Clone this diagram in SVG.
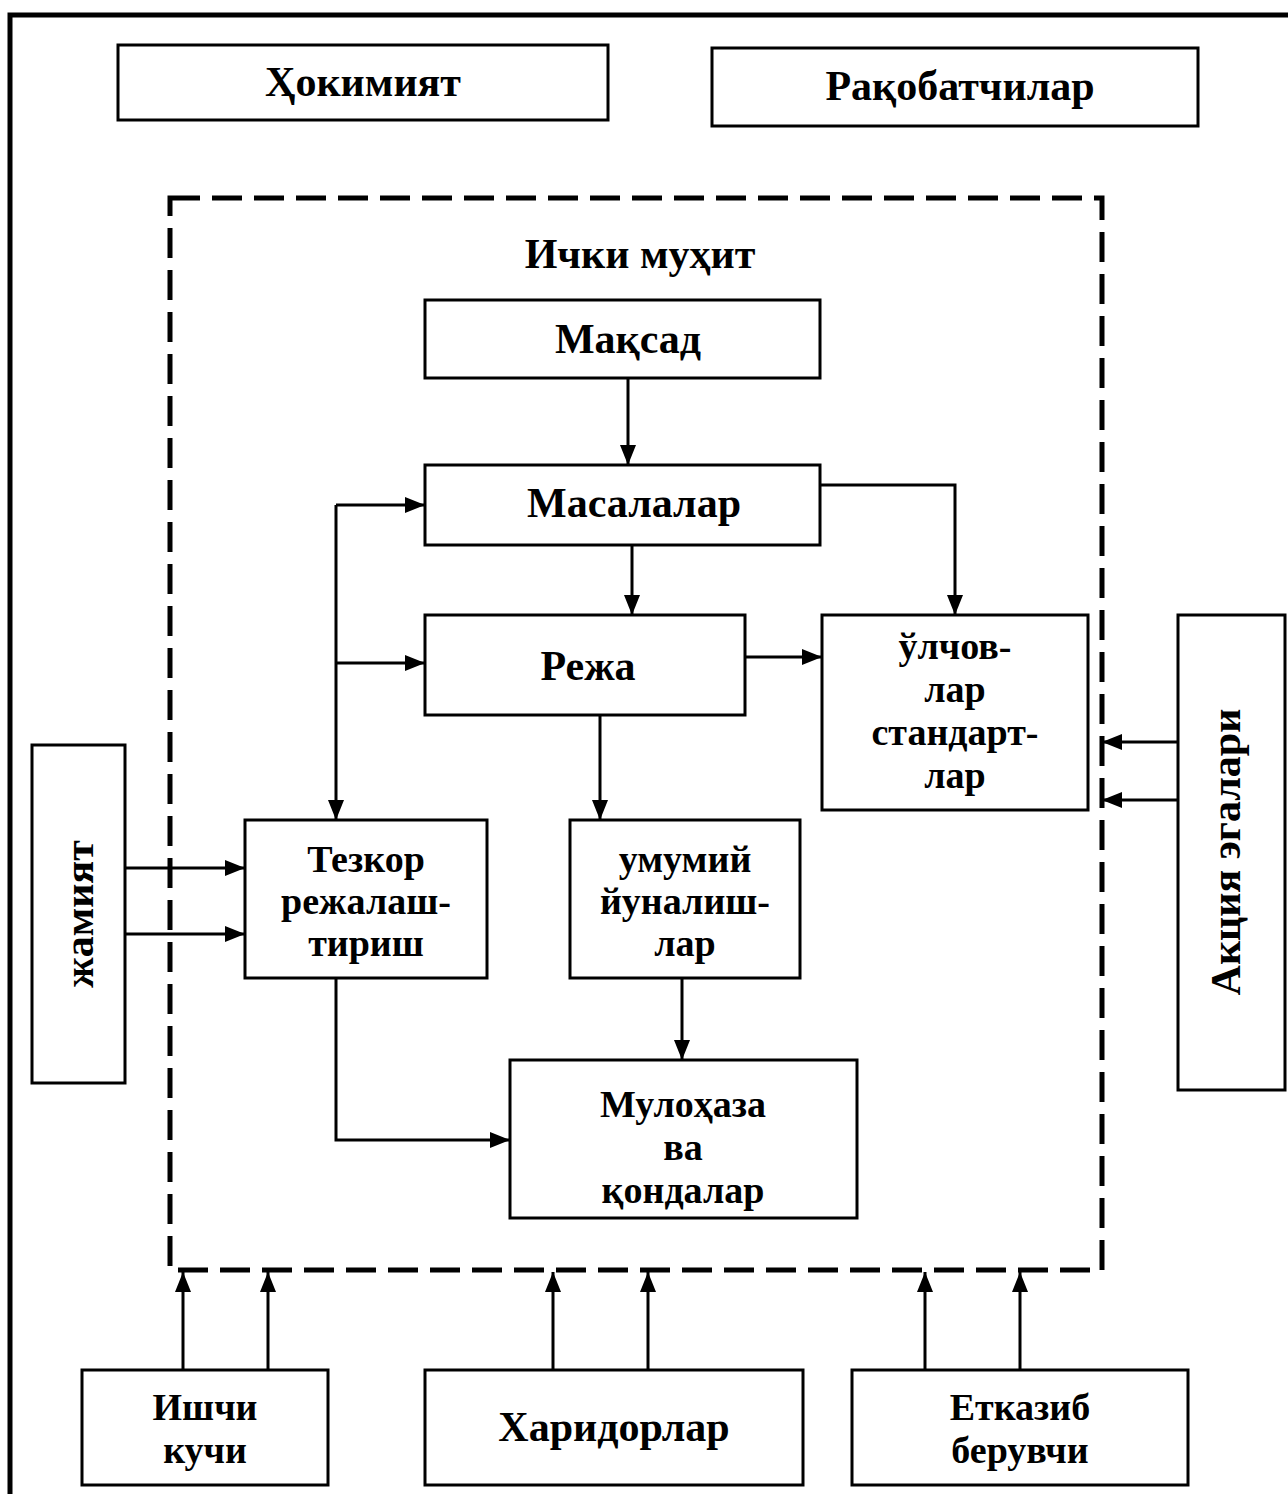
<svg xmlns="http://www.w3.org/2000/svg" width="1288" height="1494" viewBox="0 0 1288 1494">
<defs>
<marker id="a" viewBox="0 0 20 20" refX="20" refY="10" markerWidth="20" markerHeight="20" markerUnits="userSpaceOnUse" orient="auto">
<path d="M0,2 L20,10 L0,18 z" fill="#000"/>
</marker>
</defs>
<style>
.box{fill:#fff;stroke:#000;stroke-width:3}
.t{font-family:"Liberation Serif","DejaVu Serif",serif;font-weight:bold;font-size:42px;fill:#000;text-anchor:middle}
.m{font-size:38px}
.c{fill:none;stroke:#000;stroke-width:3}
.dash{fill:none;stroke:#000;stroke-width:5;stroke-dasharray:30 12}
</style>
<rect width="1288" height="1494" fill="#fff"/>
<g id="frame"><path d="M10,1494 L10,15 L1288,15" fill="none" stroke="#000" stroke-width="5"/></g>
<g id="hokimiyat"><rect class="box" x="118" y="45" width="490" height="75"/><text class="t" x="363" y="96">Ҳокимият</text></g>
<g id="raqobatchilar"><rect class="box" x="712" y="48" width="486" height="78"/><text class="t" x="960" y="100">Рақобатчилар</text></g>
<g id="ichki"><rect class="dash" x="170" y="198" width="932" height="1072"/><text class="t" x="640" y="268">Ички муҳит</text></g>
<g id="maqsad"><rect class="box" x="425" y="300" width="395" height="78"/><text class="t" x="628" y="353">Мақсад</text></g>
<g id="masalalar"><rect class="box" x="425" y="465" width="395" height="80"/><text class="t" x="634" y="517">Масалалар</text></g>
<g id="reja"><rect class="box" x="425" y="615" width="320" height="100"/><text class="t" x="588" y="680">Режа</text></g>
<g id="olchov"><rect class="box" x="822" y="615" width="266" height="195"/>
<text class="t m" x="955" y="659">ўлчов-</text><text class="t m" x="955" y="702">лар</text><text class="t m" x="955" y="745">стандарт-</text><text class="t m" x="955" y="788">лар</text></g>
<g id="tezkor"><rect class="box" x="245" y="820" width="242" height="158"/>
<text class="t m" x="366" y="872">Тезкор</text><text class="t m" x="366" y="914">режалаш-</text><text class="t m" x="366" y="956">тириш</text></g>
<g id="umumiy"><rect class="box" x="570" y="820" width="230" height="158"/>
<text class="t m" x="685" y="872">умумий</text><text class="t m" x="685" y="914">йуналиш-</text><text class="t m" x="685" y="956">лар</text></g>
<g id="mulohaza"><rect class="box" x="510" y="1060" width="347" height="158"/>
<text class="t m" x="683" y="1117">Мулоҳаза</text><text class="t m" x="683" y="1160">ва</text><text class="t m" x="683" y="1203">қондалар</text></g>
<g id="jamiyat"><rect class="box" x="32" y="745" width="93" height="338"/>
<text class="t" transform="translate(93,914) rotate(-90)">жамият</text></g>
<g id="aksiya"><rect class="box" x="1178" y="615" width="107" height="475"/>
<text class="t" transform="translate(1240,852) rotate(-90)">Акция эгалари</text></g>
<g id="ishchi"><rect class="box" x="82" y="1370" width="246" height="115"/>
<text class="t m" x="205" y="1420">Ишчи</text><text class="t m" x="205" y="1463">кучи</text></g>
<g id="haridorlar"><rect class="box" x="425" y="1370" width="378" height="115"/>
<text class="t" x="614" y="1441">Харидорлар</text></g>
<g id="etkazib"><rect class="box" x="852" y="1370" width="336" height="115"/>
<text class="t m" x="1020" y="1420">Етказиб</text><text class="t m" x="1020" y="1463">берувчи</text></g>
<g id="connectors">
<path class="c" d="M628,378 L628,465" marker-end="url(#a)"/>
<path class="c" d="M820,485 L955,485 L955,615" marker-end="url(#a)"/>
<path class="c" d="M632,545 L632,615" marker-end="url(#a)"/>
<path class="c" d="M745,657 L822,657" marker-end="url(#a)"/>
<path class="c" d="M336,505 L425,505" marker-end="url(#a)"/>
<path class="c" d="M336,505 L336,820" marker-end="url(#a)"/>
<path class="c" d="M336,663 L425,663" marker-end="url(#a)"/>
<path class="c" d="M600,715 L600,820" marker-end="url(#a)"/>
<path class="c" d="M682,978 L682,1060" marker-end="url(#a)"/>
<path class="c" d="M336,978 L336,1140 L510,1140" marker-end="url(#a)"/>
<path class="c" d="M125,868 L245,868" marker-end="url(#a)"/>
<path class="c" d="M125,934 L245,934" marker-end="url(#a)"/>
<path class="c" d="M1178,742 L1102,742" marker-end="url(#a)"/>
<path class="c" d="M1178,800 L1102,800" marker-end="url(#a)"/>
<path class="c" d="M183,1370 L183,1272" marker-end="url(#a)"/>
<path class="c" d="M268,1370 L268,1272" marker-end="url(#a)"/>
<path class="c" d="M553,1370 L553,1272" marker-end="url(#a)"/>
<path class="c" d="M648,1370 L648,1272" marker-end="url(#a)"/>
<path class="c" d="M925,1370 L925,1272" marker-end="url(#a)"/>
<path class="c" d="M1020,1370 L1020,1272" marker-end="url(#a)"/>
</g>
</svg>
